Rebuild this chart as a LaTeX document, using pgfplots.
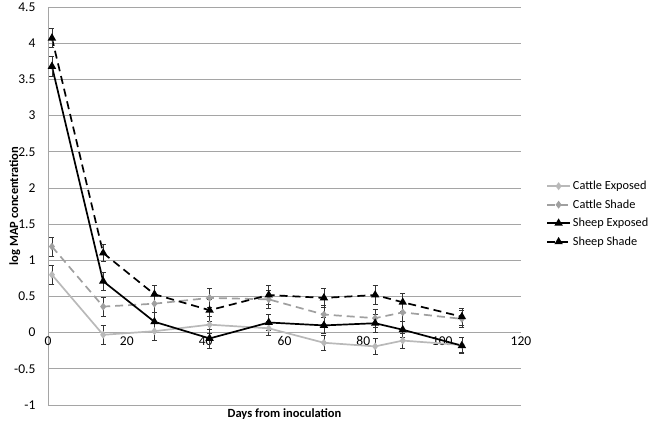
\documentclass[border=0pt]{standalone}
\usepackage{fontspec}
\setmainfont{Carlito}
\usepackage{pgfplots}
\pgfplotsset{compat=1.18}
\usepackage{pgfplotstable}

\definecolor{gridgray}{RGB}{165,165,165}
\definecolor{cattleexp}{RGB}{185,185,185}
\definecolor{cattleshade}{RGB}{160,160,160}

% day, mean log MAP, error
\pgfplotstableread{
x y e
1 0.80 0.13
14 -0.03 0.13
27 0.02 0.12
41 0.11 0.12
56 0.06 0.10
70 -0.14 0.11
83 -0.19 0.11
90 -0.11 0.10
105 -0.17 0.10
}\cattleexposed
\pgfplotstableread{
x y e
1 1.19 0.13
14 0.36 0.13
27 0.40 0.12
41 0.48 0.13
56 0.46 0.12
70 0.25 0.13
83 0.20 0.12
90 0.28 0.13
105 0.19 0.12
}\cattleshade
\pgfplotstableread{
x y e
1 3.68 0.14
14 0.71 0.12
27 0.15 0.13
41 -0.08 0.13
56 0.14 0.11
70 0.10 0.11
83 0.13 0.12
90 0.04 0.11
105 -0.18 0.11
}\sheepexposed
\pgfplotstableread{
x y e
1 4.07 0.13
14 1.10 0.12
27 0.53 0.13
41 0.31 0.15
56 0.52 0.13
70 0.48 0.13
83 0.52 0.13
90 0.42 0.13
105 0.22 0.12
}\sheepshade

\begin{document}
\begin{tikzpicture}
\path[use as bounding box] (0,0) rectangle (650pt,421pt);
\begin{axis}[
  at={(48pt,16pt)}, anchor=south west,
  scale only axis, width=473pt, height=398pt,
  xmin=0, xmax=120, ymin=-1, ymax=4.5,
  xtick={0,20,...,120}, ytick={-1,-0.5,...,4.5},
  axis lines*=left,
  axis line style={gridgray, line width=0.8pt, -},
  x axis line style={draw=none},
  ymajorgrids, grid style={gridgray, line width=0.8pt},
  major tick length=0pt,
  tick label style={font=\fontsize{13.5}{16}\selectfont, /pgf/number format/assume math mode=true},
  yticklabel style={/pgf/number format/fixed, xshift=-9pt},
  xticklabel style={yshift=72pt},
  ylabel={\bfseries log MAP concentration},
  ylabel style={at={(axis description cs:-0.07,0.5)}, anchor=center, font=\fontsize{12.5}{15}\selectfont},
  xlabel={\bfseries Days from inoculation},
  xlabel style={at={(axis description cs:0.5,0)}, anchor=north, yshift=0pt, font=\fontsize{12.5}{15}\selectfont},
  clip=false,
  legend style={draw=none, fill=none, at={(axis description cs:1.053,0.48)}, anchor=west,
    font=\fontsize{12.3}{15}\selectfont, row sep=4.5pt, inner sep=0pt},
  legend cell align=left,
  legend image code/.code={\draw[mark repeat=2, mark phase=2, #1] plot coordinates {(0pt,0pt) (11.5pt,0pt) (23pt,0pt)};},
  error bars/y dir=both, error bars/y explicit,
  error bars/error bar style={black!80, line width=0.6pt, solid},
  error bars/error mark options={rotate=90, mark size=2.5pt, black!80, line width=0.6pt},
]
\addplot[cattleexp, line width=1.7pt, mark=diamond*, mark size=2.6pt, mark options={solid}]
  table[x=x, y=y, y error=e] {\cattleexposed};
\addlegendentry{Cattle Exposed}
\addplot[cattleshade, line width=1.7pt, dash pattern=on 8pt off 5pt, mark=diamond*, mark size=2.6pt, mark options={solid}]
  table[x=x, y=y, y error=e] {\cattleshade};
\addlegendentry{Cattle Shade}
\addplot[black, line width=1.7pt, mark=triangle*, mark size=3.2pt, mark options={solid}]
  table[x=x, y=y, y error=e] {\sheepexposed};
\addlegendentry{Sheep Exposed}
\addplot[black, line width=1.7pt, dash pattern=on 8pt off 5pt, mark=triangle*, mark size=3.2pt, mark options={solid}]
  table[x=x, y=y, y error=e] {\sheepshade};
\addlegendentry{Sheep Shade}
\end{axis}
\end{tikzpicture}
\end{document}
